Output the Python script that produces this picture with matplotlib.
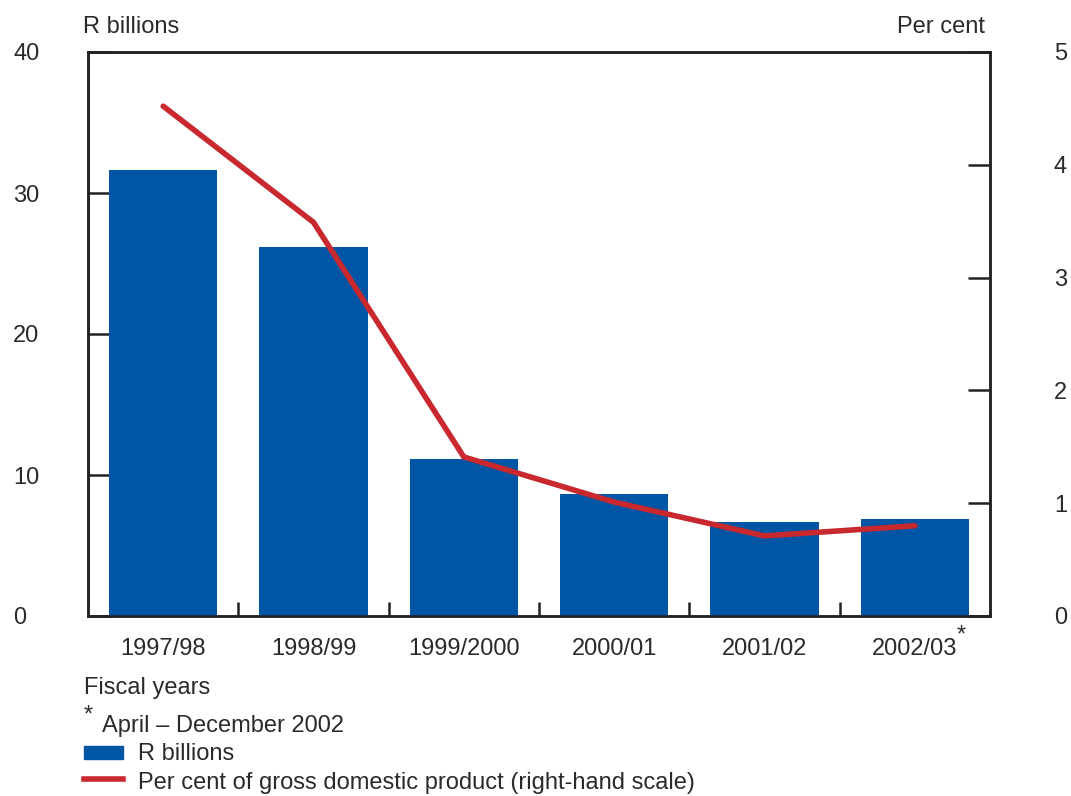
import matplotlib
matplotlib.use("Agg")
import matplotlib.pyplot as plt
from matplotlib.patches import Rectangle
from matplotlib.lines import Line2D

categories = ["1997/98", "1998/99", "1999/2000", "2000/01", "2001/02", "2002/03"]
r_billions = [31.6, 26.2, 11.1, 8.65, 6.7, 6.9]
pct_gdp = [4.52, 3.49, 1.41, 1.01, 0.71, 0.80]
left_ticks = [0, 10, 20, 30, 40]
right_ticks = [0, 1, 2, 3, 4, 5]

BLUE = "#0055A4"
RED = "#C8282E"
TXT = "#2a2a2a"
FS = 17

plt.rcParams["font.family"] = ["Liberation Sans", "DejaVu Sans"]

W, H = 1071, 796
fig = plt.figure(figsize=(W / 100, H / 100), dpi=100)
def fx(px): return px / W
def fy(py): return 1 - py / H

ax = fig.add_axes([fx(88), fy(616), fx(990) - fx(88), fy(52) - fy(616)])
ax2 = ax.twinx()

x = list(range(len(categories)))
ax.bar(x, r_billions, width=0.72, color=BLUE, zorder=3)
ax.set_xlim(-0.5, len(categories) - 0.5)
ax.set_ylim(0, 40)
ax.set_yticks(left_ticks)
ax.set_xticks([i + 0.5 for i in x[:-1]])
ax.set_xticks(x, minor=True)
ax.set_xticklabels([], minor=False)
ax.set_xticklabels(categories, minor=True)
ax.tick_params(axis="x", which="major", direction="in", length=10, width=1.8, color="#222222")
ax.tick_params(axis="x", which="minor", length=0, pad=16, labelsize=FS, labelcolor=TXT)
ax.tick_params(axis="y", direction="in", length=16, width=1.8, color="#222222",
               pad=54, labelsize=FS, labelcolor=TXT)
for lab in ax.get_yticklabels():
    lab.set_horizontalalignment("left")

ax2.plot(x, pct_gdp, color=RED, lw=4, solid_capstyle="round", solid_joinstyle="miter", zorder=4)
ax2.set_ylim(0, 5)
ax2.set_yticks(right_ticks)
ax2.tick_params(axis="y", direction="in", length=16, width=1.8, color="#222222",
                pad=46, labelsize=FS, labelcolor=TXT)

for a in (ax, ax2):
    for s in a.spines.values():
        s.set_linewidth(1.8)
        s.set_color("#222222")
ax.set_zorder(1)
ax2.set_zorder(2)
ax2.patch.set_visible(False)

# asterisk on last category label
ax.text(5.275, -0.035, "*", transform=ax.get_xaxis_transform(), fontsize=FS,
        color=TXT, ha="left", va="center")

fig.text(fx(83), fy(27), "R billions", fontsize=FS, color=TXT, ha="left", va="center")
fig.text(fx(985), fy(27), "Per cent", fontsize=FS, color=TXT, ha="right", va="center")
fig.text(fx(84), fy(688), "Fiscal years", fontsize=FS, color=TXT, ha="left", va="center")
fig.text(fx(84), fy(716), "*", fontsize=FS, color=TXT, ha="left", va="center")
fig.text(fx(102), fy(726), "April \u2013 December 2002", fontsize=FS, color=TXT, ha="left", va="center")

fig.patches.append(Rectangle((fx(84), fy(759)), fx(123) - fx(84), fy(746) - fy(759),
                             transform=fig.transFigure, color=BLUE, figure=fig))
fig.text(fx(138), fy(754), "R billions", fontsize=FS, color=TXT, ha="left", va="center")
fig.lines.append(Line2D([fx(84), fx(123)], [fy(779), fy(779)], transform=fig.transFigure,
                        color=RED, lw=4, figure=fig))
fig.text(fx(138), fy(783), "Per cent of gross domestic product (right-hand scale)",
         fontsize=FS, color=TXT, ha="left", va="center")

fig.savefig("out.png", dpi=100)
